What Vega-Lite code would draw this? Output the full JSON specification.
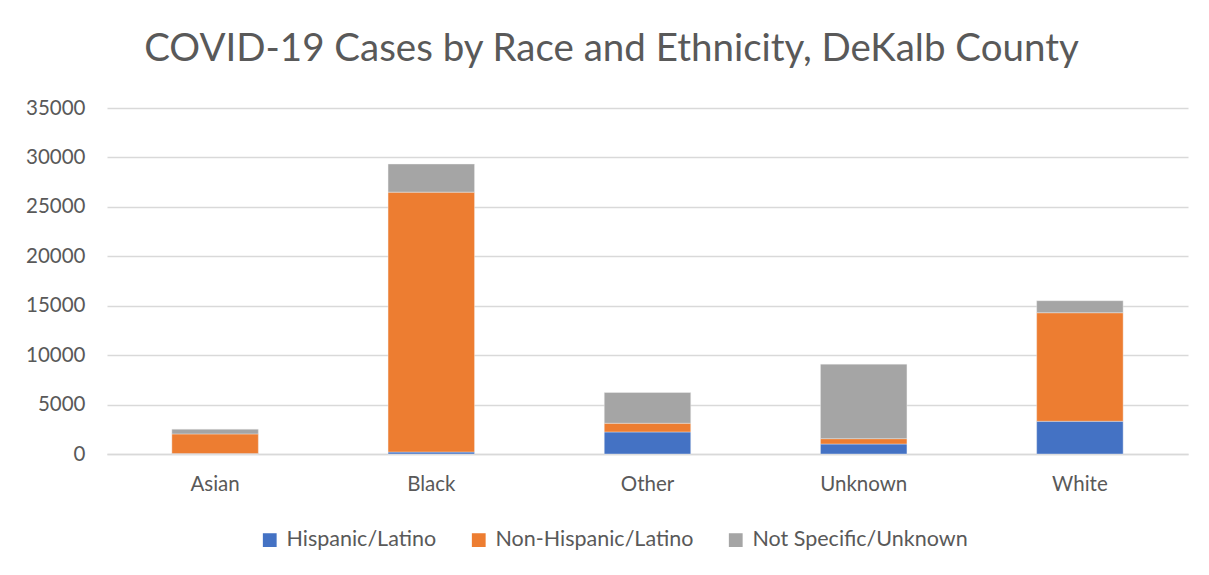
{
  "$schema": "https://vega.github.io/schema/vega-lite/v6.json",
  "autosize": {"type": "none"},
  "width": 1081,
  "height": 346,
  "padding": {"left": 107, "top": 108, "right": 21, "bottom": 121},
  "background": "white",
  "title": {
    "text": "COVID-19 Cases by Race and Ethnicity, DeKalb County",
    "font": "Lato",
    "fontSize": 38.5,
    "fontWeight": "normal",
    "color": "#595959",
    "anchor": "middle",
    "dx": -36,
    "offset": 29
  },
  "data": {
    "values": [
      {"race": "Asian", "ethnicity": "Hispanic/Latino", "order": 1, "cases": 40},
      {"race": "Asian", "ethnicity": "Non-Hispanic/Latino", "order": 2, "cases": 1990},
      {"race": "Asian", "ethnicity": "Not Specific/Unknown", "order": 3, "cases": 480},
      {"race": "Black", "ethnicity": "Hispanic/Latino", "order": 1, "cases": 200},
      {"race": "Black", "ethnicity": "Non-Hispanic/Latino", "order": 2, "cases": 26290},
      {"race": "Black", "ethnicity": "Not Specific/Unknown", "order": 3, "cases": 2840},
      {"race": "Other", "ethnicity": "Hispanic/Latino", "order": 1, "cases": 2230},
      {"race": "Other", "ethnicity": "Non-Hispanic/Latino", "order": 2, "cases": 880},
      {"race": "Other", "ethnicity": "Not Specific/Unknown", "order": 3, "cases": 3110},
      {"race": "Unknown", "ethnicity": "Hispanic/Latino", "order": 1, "cases": 1010},
      {"race": "Unknown", "ethnicity": "Non-Hispanic/Latino", "order": 2, "cases": 540},
      {"race": "Unknown", "ethnicity": "Not Specific/Unknown", "order": 3, "cases": 7540},
      {"race": "White", "ethnicity": "Hispanic/Latino", "order": 1, "cases": 3310},
      {"race": "White", "ethnicity": "Non-Hispanic/Latino", "order": 2, "cases": 10980},
      {"race": "White", "ethnicity": "Not Specific/Unknown", "order": 3, "cases": 1220}
    ]
  },
  "mark": {"type": "bar", "stroke": "#f2f2f2", "strokeWidth": 0.4},
  "encoding": {
    "x": {
      "field": "race",
      "type": "nominal",
      "title": null,
      "scale": {"paddingInner": 0.6, "paddingOuter": 0.3},
      "axis": {
        "labelAngle": 0,
        "labelFont": "Lato",
        "labelFontSize": 20.5,
        "labelColor": "#595959",
        "labelPadding": 20,
        "ticks": false,
        "domainColor": "#d9d9d9",
        "domainWidth": 1.5
      }
    },
    "y": {
      "field": "cases",
      "type": "quantitative",
      "stack": "zero",
      "title": null,
      "scale": {"domain": [0, 35000], "nice": false},
      "axis": {
        "values": [0, 5000, 10000, 15000, 20000, 25000, 30000, 35000],
        "format": "d",
        "labelFont": "Lato",
        "labelFontSize": 20.5,
        "labelColor": "#595959",
        "labelPadding": 22,
        "ticks": false,
        "domain": false,
        "gridColor": "#d9d9d9",
        "gridWidth": 1.5
      }
    },
    "color": {
      "field": "ethnicity",
      "type": "nominal",
      "title": null,
      "scale": {
        "domain": ["Hispanic/Latino", "Non-Hispanic/Latino", "Not Specific/Unknown"],
        "range": ["#4472C4", "#ED7D31", "#A5A5A5"]
      },
      "legend": {
        "orient": "none",
        "direction": "horizontal",
        "legendX": 152,
        "legendY": 421,
        "symbolType": "square",
        "symbolSize": 190,
        "symbolStrokeWidth": 0,
        "labelFont": "Lato",
        "labelFontSize": 21.5,
        "labelColor": "#595959",
        "labelOffset": 6,
        "labelLimit": 400,
        "columnPadding": 31
      }
    },
    "order": {"field": "order", "type": "quantitative"}
  },
  "config": {
    "view": {"stroke": null}
  }
}
